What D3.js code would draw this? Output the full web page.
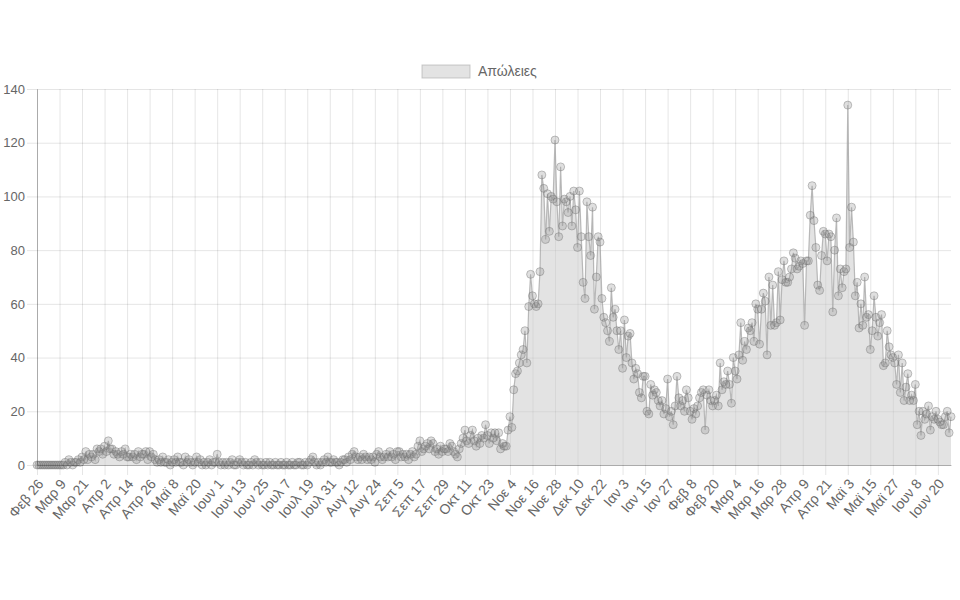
<!DOCTYPE html>
<html>
<head>
<meta charset="utf-8">
<script src="https://cdn.jsdelivr.net/npm/d3@7"></script>
<style>
  body { margin: 0; background: #fff; }
  .chart text { font-family: "Liberation Sans", Arial, sans-serif; fill: #666; }
</style>
</head>
<body>
<div class="chart"></div>
<script>
// daily deaths, one array per month (first day: 26 Feb 2020)
var feb2020 = [0, 0, 0, 0];
var mar2020 = [0,0,0,0,0,0,0,0,0,0,0,1,0,2,1,0,1,1,2,1,3,2,5,2,4,3,4,2,6,5,6];
var apr2020 = [4,7,5,9,6,6,4,5,4,3,5,4,6,3,3,4,3,4,2,5,3,4,4,5,2,5,3,4,2,1];
var may2020 = [2,1,3,1,1,2,0,1,2,1,3,1,1,0,3,1,2,1,0,1,3,1,2,0,1,0,1,2,0,1,1];
var jun2020 = [4,1,0,1,0,1,0,1,2,0,0,1,2,1,0,1,0,0,1,0,2,1,0,1,0,0,1,0,1,0];
var jul2020 = [0,1,0,0,1,0,0,1,0,0,1,0,0,1,1,0,0,1,0,1,2,3,1,0,1,0,1,2,1,3,1];
var aug2020 = [1,2,1,1,0,1,2,2,1,3,2,4,5,3,2,3,2,4,3,2,3,2,3,1,4,5,3,2,3,4,3];
var sep2020 = [5,3,4,2,5,5,3,4,3,4,2,4,5,3,4,7,9,5,6,7,8,6,9,8,5,6,4,7,5,6];
var oct2020 = [6,5,8,7,5,4,3,6,8,10,13,9,8,11,13,9,7,10,8,11,10,15,11,8,12,10,12,9,12,6,8];
var nov2020 = [7,7,13,18,14,28,34,35,38,41,43,50,38,59,71,63,60,59,60,72,108,103,84,101,87,100,99,121,98,85];
var dec2020 = [111,89,99,98,94,100,89,102,95,81,102,85,68,62,98,85,78,96,58,70,85,83,62,55,53,50,46,66,55,58,50];
var jan2021 = [43,50,36,54,40,48,49,38,32,36,34,27,25,33,33,20,19,30,26,28,27,24,22,24,19,21,32,18,20,15,22];
var feb2021 = [33,25,22,24,20,28,25,20,17,21,19,22,25,27,28,13,26,28,24,22,24,26,22,38,28,31,30,35];
var mar2021 = [30,23,40,35,32,41,53,39,46,43,51,50,53,46,60,58,45,58,64,61,41,70,52,67,52,53,72,54,69,76,68];
var apr2021 = [68,70,73,79,77,73,74,76,75,52,76,76,93,104,91,81,67,65,78,87,86,76,86,85,57,80,92,63,73,66];
var may2021 = [72,73,134,81,96,83,63,68,51,60,52,70,55,56,43,50,63,55,48,53,56,37,38,50,44,41,40,38,30,41,27];
var jun2021 = [38,24,29,34,24,26,24,30,15,20,11,20,17,19,22,13,18,17,20,17,16,15,15,18,20,12,18];

var monthNames = ["Ιαν", "Φεβ", "Μαρ", "Απρ", "Μαϊ", "Ιουν", "Ιουλ", "Αυγ", "Σεπ", "Οκτ", "Νοε", "Δεκ"];
var yTicks = [0, 20, 40, 60, 80, 100, 120, 140];
var seriesName = "Απώλειες";

var deaths = [].concat(feb2020, mar2020, apr2020, may2020, jun2020, jul2020, aug2020,
    sep2020, oct2020, nov2020, dec2020, jan2021, feb2021, mar2021, apr2021, may2021, jun2021);

// build the dates from the start day
var startDate = new Date(2020, 1, 26);
var data = deaths.map(function(v, i) {
    return { date: d3.timeDay.offset(startDate, i), value: v };
});

var svgWidth = 960, svgHeight = 600;
var margin = { top: 89, right: 9, bottom: 135, left: 37 };
var width = svgWidth - margin.left - margin.right;
var height = svgHeight - margin.top - margin.bottom;

var svg = d3.select(".chart").append("svg")
    .attr("width", svgWidth)
    .attr("height", svgHeight);

var chartGroup = svg.append("g")
    .attr("transform", `translate(${margin.left}, ${margin.top})`);

var x = d3.scaleTime()
    .domain(d3.extent(data, d => d.date))
    .range([0, width]);
var y = d3.scaleLinear()
    .domain([0, 140])
    .range([height, 0]);

// a label every 12 days, like the original
var xTickDates = data.filter((d, i) => i % 12 === 0).map(d => d.date);

// grid (with the 10px tick marks outside the plot)
chartGroup.append("g")
    .attr("transform", `translate(${width}, 0)`)
    .call(d3.axisLeft(y).tickValues(yTicks).tickSize(width + 10).tickFormat(""))
    .call(g => g.select(".domain").remove())
    .call(g => g.selectAll("line").attr("stroke", "rgba(0,0,0,0.1)"));

chartGroup.append("g")
    .call(d3.axisBottom(x).tickValues(xTickDates).tickSize(height + 10).tickFormat(""))
    .call(g => g.select(".domain").remove())
    .call(g => g.selectAll("line").attr("stroke", "rgba(0,0,0,0.1)"));

// area + line
var area = d3.area()
    .x(d => x(d.date))
    .y0(y(0))
    .y1(d => y(d.value));
var line = d3.line()
    .x(d => x(d.date))
    .y(d => y(d.value));

chartGroup.append("path")
    .datum(data)
    .attr("d", area)
    .attr("fill", "rgba(200,200,200,0.5)");

chartGroup.append("path")
    .datum(data)
    .attr("d", line)
    .attr("fill", "none")
    .attr("stroke", "rgba(160,160,160,0.7)")
    .attr("stroke-width", 1.2);

chartGroup.selectAll("circle")
    .data(data)
    .enter()
    .append("circle")
    .attr("cx", d => x(d.date))
    .attr("cy", d => y(d.value))
    .attr("r", 4)
    .attr("fill", "rgba(140,140,140,0.28)")
    .attr("stroke", "rgba(110,110,110,0.4)")
    .attr("stroke-width", 1);

// axes
var leftAxis = d3.axisLeft(y).tickValues(yTicks).tickSize(0).tickPadding(12);
chartGroup.append("g")
    .call(leftAxis)
    .call(g => g.select(".domain").attr("stroke", "rgba(0,0,0,0.25)"))
    .call(g => g.selectAll(".tick text").style("font-size", "13px"));

var bottomAxis = d3.axisBottom(x).tickValues(xTickDates).tickSize(0).tickSizeOuter(0)
    .tickFormat(d => monthNames[d.getMonth()] + " " + d.getDate());
var xAxisG = chartGroup.append("g")
    .attr("transform", `translate(0, ${height})`)
    .call(bottomAxis)
    .call(g => g.select(".domain").attr("stroke", "rgba(0,0,0,0.25)"));

// labels turned 50 degrees, ending at their tick
xAxisG.selectAll(".tick text")
    .style("font-size", "14px")
    .attr("text-anchor", "end")
    .attr("x", 0)
    .attr("y", 0)
    .attr("dy", "0.35em")
    .attr("transform", "translate(3, 16) rotate(-50)");

// legend
var legend = svg.append("g").attr("transform", "translate(422, 65)");
legend.append("rect")
    .attr("width", 48)
    .attr("height", 13)
    .attr("fill", "rgba(200,200,200,0.5)")
    .attr("stroke", "rgba(170,170,170,0.6)");
legend.append("text")
    .attr("x", 56)
    .attr("y", 6.5)
    .attr("dy", "0.35em")
    .style("font-size", "14px")
    .text(seriesName);
</script>
</body>
</html>
